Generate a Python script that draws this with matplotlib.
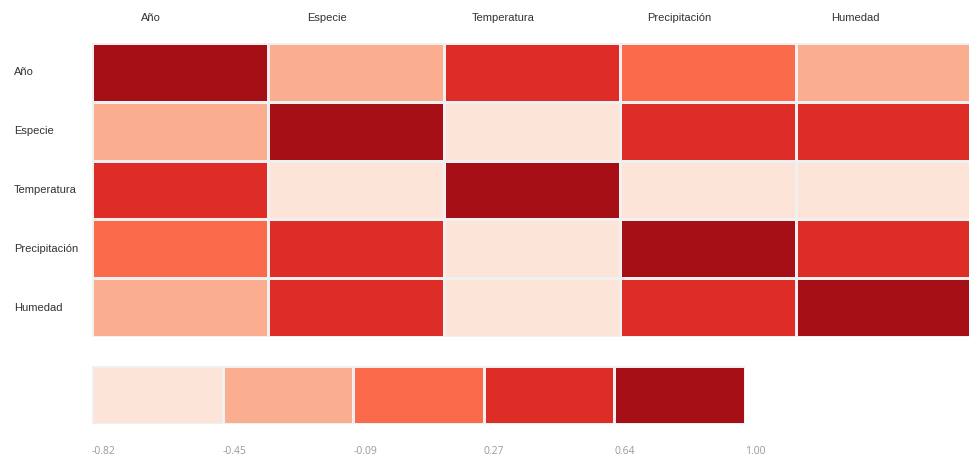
import numpy as np
import matplotlib as mpl
import matplotlib.pyplot as plt
from matplotlib.colors import ListedColormap, BoundaryNorm
from matplotlib.transforms import blended_transform_factory

mpl.use('Agg')

variables = ["Año", "Especie", "Temperatura", "Precipitación", "Humedad"]
corr = np.array([
    [1.00, -0.30, 0.45, 0.05, -0.25],
    [-0.30, 1.00, -0.818, 0.40, 0.45],
    [0.45, -0.818, 1.00, -0.60, -0.70],
    [0.05, 0.40, -0.60, 1.00, 0.50],
    [-0.25, 0.45, -0.70, 0.50, 1.00],
])
colores = ["#fde4d8", "#fbad90", "#fb6a4a", "#de2d26", "#a50f15"]

# bins iguales entre el minimo y el maximo
limites = np.linspace(corr.min(), corr.max(), len(colores) + 1)
cmap = ListedColormap(colores)
norm = BoundaryNorm(limites, cmap.N)

fig = plt.figure(figsize=(9.7, 4.59), dpi=100)
ax = fig.add_axes([92 / 970, 1 - 337 / 459, 880 / 970, 294 / 459])
n = len(variables)
ax.pcolormesh(np.arange(n + 1), np.arange(n + 1), corr, cmap=cmap, norm=norm,
              edgecolors="#f0f0f0", linewidth=1.0)
ax.set_xlim(0, n)
ax.set_ylim(n, 0)
ax.axis("off")

for j, nombre in enumerate(variables):
    ax.text(j + 0.5 - 0.165, -0.43, nombre, ha="center", va="center",
            fontsize=8, color="#333333", family="Liberation Sans")

trans = blended_transform_factory(fig.transFigure, ax.transData)
for i, nombre in enumerate(variables):
    ax.text(14 / 970, i + 0.5, nombre, ha="left", va="center", transform=trans,
            fontsize=8, color="#333333", family="Liberation Sans")

# leyenda
lax = fig.add_axes([92 / 970, 1 - 424 / 459, 653 / 970, 58 / 459])
medios = (limites[:-1] + limites[1:]) / 2
lax.pcolormesh(limites, [0, 1], medios[np.newaxis, :], cmap=cmap, norm=norm,
               edgecolors="#f0f0f0", linewidth=1.0)
lax.set_xlim(limites[0], limites[-1])
lax.set_ylim(0, 1)
lax.axis("off")
for v in limites:
    lax.text(v, -0.47, f"{v:.2f}", ha="left", va="center", fontsize=7.5,
             color="#999999", family="Open Sans")

fig.savefig("out.png", dpi=100)
